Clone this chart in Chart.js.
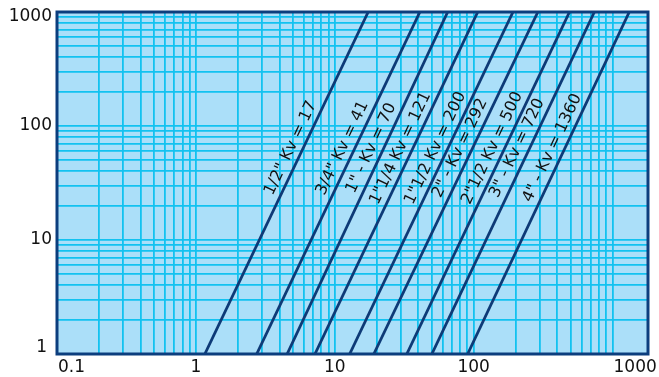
<!DOCTYPE html>
<html>
<head>
<meta charset="utf-8">
<script src="https://cdn.jsdelivr.net/npm/chart.js@4/dist/chart.umd.min.js"></script>
<style>
  html, body { margin: 0; padding: 0; background: #fff; }
  #wrap { width: 659px; height: 377px; }
</style>
</head>
<body>
<div id="wrap"><canvas id="kvChart" width="659" height="377"></canvas></div>
<script>
'use strict';

// Valve sizes and their Kv
const lineLabels = ['1/2" Kv = 17', '3/4" Kv = 41', '1" - Kv = 70', '1"1/4 Kv = 121', '1"1/2 Kv = 200',
  '2" - Kv = 292', '2"1/2 Kv = 500', '3" - Kv = 720', '4" - Kv = 1360'];

// flow where each line leaves the bottom (y = 1) and the top (y = 1000)
const flowAtBottom = [1.16, 2.74, 4.54, 7.2, 12.8, 19.1, 33, 50, 90.5];
const flowAtTop = [17.4, 41, 65, 107, 192, 290, 490, 740, 1320];
const yBottom = 1, yTop = 1000;

// grid lines and labels
const xGrid = [0.1, 0.2, 0.3, 0.4, 0.5, 0.6, 0.7, 0.8, 0.9,
  1, 2, 3, 4, 5, 6, 7, 8, 9,
  10, 20, 30, 40, 50, 60, 70, 80, 90,
  100, 200, 300, 400, 500, 600, 700, 800, 900, 1000];
const yGrid = [1, 2, 3, 4, 5, 6, 7, 8, 9,
  10, 20, 30, 40, 50, 60, 70, 80, 90,
  100, 200, 300, 400, 500, 600, 700, 800, 900, 1000];
const xTickLabels = ['0.1', '1', '10', '100', '1000'];
const yTickLabels = ['1', '10', '100', '1000'];

const navy = '#0d3a77',
  frameColor = '#0c3e7e',
  plotBg = '#abdff9',
  gridColor = '#12c2f0',
  textColor = '#111';

const labelAtY = 64; // height where the rotated labels sit

// light blue plot area
const bgPlugin = {
  id: 'bgPlugin',
  beforeDraw(chart) {
    const { ctx, chartArea: a } = chart;
    ctx.save();
    ctx.fillStyle = plotBg;
    ctx.fillRect(a.left, a.top, a.right - a.left, a.bottom - a.top);
    ctx.restore();
  }
};

// frame, axis numbers and the rotated line labels
const textPlugin = {
  id: 'textPlugin',
  afterDatasetsDraw(chart) {
    const { ctx, chartArea: a } = chart;
    const xs = chart.scales.x, ys = chart.scales.y;
    ctx.save();

    // rotated labels on the left of each line
    ctx.font = '16px "DejaVu Sans", sans-serif';
    ctx.fillStyle = textColor;
    ctx.textAlign = 'center';
    ctx.textBaseline = 'middle';
    lineLabels.forEach(function (txt, i) {
      const x0 = xs.getPixelForValue(flowAtBottom[i]), y0 = ys.getPixelForValue(yBottom);
      const x1 = xs.getPixelForValue(flowAtTop[i]), y1 = ys.getPixelForValue(yTop);
      const ang = Math.atan2(y1 - y0, x1 - x0);
      const py = ys.getPixelForValue(labelAtY);
      const px = x0 + (py - y0) * (x1 - x0) / (y1 - y0);
      ctx.save();
      ctx.translate(px - 12.5, py);
      ctx.rotate(ang);
      ctx.fillText(txt, 0, 0);
      ctx.restore();
    });

    // frame
    ctx.strokeStyle = frameColor;
    ctx.lineWidth = 3;
    ctx.strokeRect(a.left, a.top, a.right - a.left, a.bottom - a.top);

    // axis numbers
    ctx.font = '17px "DejaVu Sans", sans-serif';
    ctx.fillStyle = textColor;
    ctx.textBaseline = 'middle';
    xTickLabels.forEach(function (t, i) {
      const px = xs.getPixelForValue(parseFloat(t));
      const edge = (i === 0 || i === xTickLabels.length - 1);
      ctx.textAlign = edge ? 'left' : 'center';
      ctx.fillText(t, edge ? px + 1 : px, a.bottom + 14);
    });
    ctx.textAlign = 'right';
    yTickLabels.forEach(function (t) {
      let py = ys.getPixelForValue(parseFloat(t));
      py = Math.min(Math.max(py, a.top + 5), a.bottom - 6);
      ctx.fillText(t, t === '1' ? a.left - 10 : a.left - 5, py);
    });
    ctx.restore();
  }
};

const datasets = lineLabels.map(function (lbl, i) {
  return {
    label: lbl,
    data: [{ x: flowAtBottom[i], y: yBottom }, { x: flowAtTop[i], y: yTop }],
    showLine: true,
    borderColor: navy,
    borderWidth: 2.8,
    pointRadius: 0,
    fill: false
  };
});

new Chart(document.getElementById('kvChart'), {
  type: 'scatter',
  data: { datasets: datasets },
  options: {
    responsive: false,
    animation: false,
    devicePixelRatio: 1,
    layout: { padding: { left: 57, right: 11, top: 12, bottom: 23 } },
    plugins: {
      legend: { display: false },
      tooltip: { enabled: false }
    },
    scales: {
      x: {
        type: 'logarithmic',
        min: 0.1,
        max: 1800,
        afterBuildTicks: function (s) { s.ticks = xGrid.map(v => ({ value: v })); },
        ticks: { display: false },
        border: { display: false },
        grid: { color: gridColor, lineWidth: 1.8, drawTicks: false }
      },
      y: {
        type: 'logarithmic',
        min: 1,
        max: 1000,
        afterBuildTicks: function (s) { s.ticks = yGrid.map(v => ({ value: v })); },
        ticks: { display: false },
        border: { display: false },
        grid: { color: gridColor, lineWidth: 1.8, drawTicks: false }
      }
    }
  },
  plugins: [bgPlugin, textPlugin]
});
</script>
</body>
</html>
